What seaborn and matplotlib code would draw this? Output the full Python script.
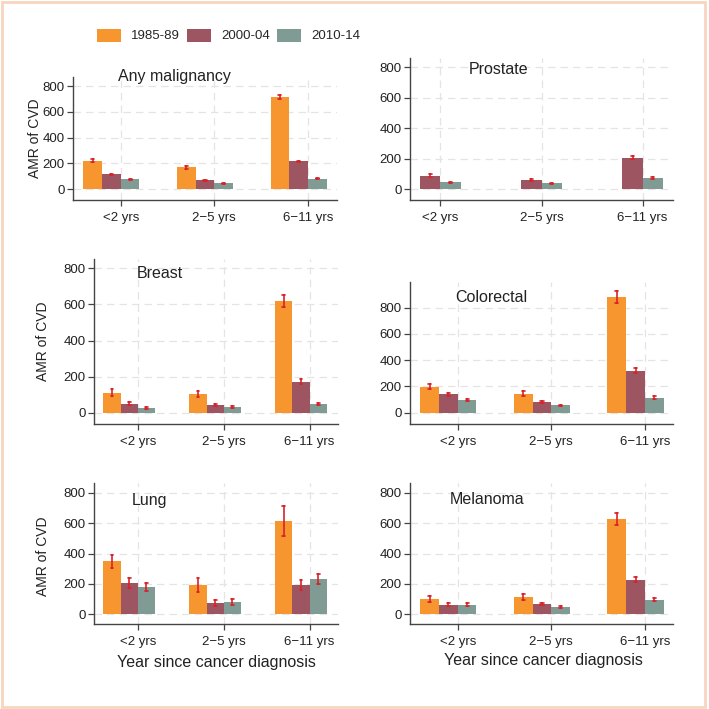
import numpy as np
import pandas as pd
import matplotlib
matplotlib.use("Agg")
import matplotlib.pyplot as plt
from matplotlib.patches import Patch, Rectangle
import seaborn as sns

# ==========================================
# data
# ==========================================
periods = ['1985-89', '2000-04', '2010-14']
categories = ['<2 yrs', '2\u22125 yrs', '6\u221211 yrs']
panels = ['Any malignancy', 'Prostate', 'Breast', 'Colorectal', 'Lung', 'Melanoma']

# AMR values per panel: one row per period, one column per category (nan = not shown)
any_amr = [[220, 168, 718], [113, 67, 215], [75, 45, 80]]
any_err = [[10, 10, 15], [5, 4, 6], [5, 4, 5]]
prostate_amr = [[np.nan, np.nan, np.nan], [88, 61, 206], [44, 37, 70]]
prostate_err = [[0, 0, 0], [9, 5, 10], [5, 4, 6]]
breast_amr = [[112, 105, 618], [51, 44, 173], [28, 31, 50]]
breast_err = [[20, 18, 34], [8, 6, 12], [5, 5, 7]]
colorectal_amr = [[198, 145, 882], [140, 82, 320], [94, 55, 114]]
colorectal_err = [[20, 17, 44], [12, 9, 20], [8, 7, 10]]
lung_amr = [[348, 192, 615], [205, 73, 190], [178, 81, 234]]
lung_err = [[43, 46, 98], [30, 22, 34], [25, 19, 33]]
melanoma_amr = [[99, 112, 628], [62, 68, 227], [62, 48, 95]]
melanoma_err = [[22, 20, 39], [8, 7, 16], [9, 7, 12]]

all_amr = [any_amr, prostate_amr, breast_amr, colorectal_amr, lung_amr, melanoma_amr]
all_err = [any_err, prostate_err, breast_err, colorectal_err, lung_err, melanoma_err]

colors = {'1985-89': '#F7962F', '2000-04': '#9D5562', '2010-14': '#7F9B93'}
err_color = '#D8232A'

# ==========================================
# layout (pixels on a 709x709 canvas)
# ==========================================
W = 709.0
# left, right, top, bottom of each axes
boxes = [(73, 337, 77, 200), (410, 673, 58, 200),
         (94, 338, 259, 424), (410, 673, 282, 424),
         (94, 338, 483, 624), (410, 673, 483, 624)]
xlims = [(-0.41, 2.41), (-0.20, 2.40), (-0.41, 2.43),
         (-0.41, 2.40), (-0.41, 2.43), (-0.41, 2.40)]
ylims = [(-85, 870), (-72, 861), (-61, 850), (-86, 996), (-66, 866), (-66, 866)]
title_pos = [(118, 76), (469, 69), (137, 273), (455, 298), (132, 501), (450, 499)]
ylabel_pos = {0: (35, 138), 2: (43, 341), 4: (43, 556)}
xlabel_pos = [(216, 662), (543, 661)]


def px_rect(l, r, t, b):
    return [l / W, 1 - b / W, (r - l) / W, (b - t) / W]


def long_frame(amr, err):
    # each bar as (v-e, v, v+e): mean = v, 100% interval = +/- e
    rows = []
    for p, period in enumerate(periods):
        for c, cat in enumerate(categories):
            v = amr[p][c]
            if np.isnan(v):
                continue
            e = err[p][c]
            for val in (v - e, v, v + e):
                rows.append({'cat': cat, 'period': period, 'amr': val})
    return pd.DataFrame(rows)


sns.set_theme(style='white')
plt.rcParams['font.family'] = ['Liberation Sans', 'DejaVu Sans']

fig = plt.figure(figsize=(7.09, 7.09), dpi=100)
fig.patch.set_facecolor('white')

for i, name in enumerate(panels):
    ax = fig.add_axes(px_rect(*boxes[i]))
    df = long_frame(all_amr[i], all_err[i])
    sns.barplot(data=df, x='cat', y='amr', hue='period', order=categories,
                hue_order=periods, palette=colors, estimator='mean',
                errorbar=('pi', 100), width=0.6, saturation=1, linewidth=0,
                capsize=0.1, err_kws={'color': err_color, 'linewidth': 1.2},
                legend=False, ax=ax)

    ax.set_xlim(*xlims[i])
    ax.set_ylim(*ylims[i])
    ax.set_xticks(np.arange(len(categories)) + 0.1)
    ax.set_xticklabels(categories)
    ax.set_yticks([0, 200, 400, 600, 800])
    ax.set_xlabel('')
    ax.set_ylabel('')

    ax.grid(True, color='#E4E4E4', linestyle=(0, (6, 4)), linewidth=0.9)
    ax.set_axisbelow(True)
    sns.despine(ax=ax)
    for s in ['left', 'bottom']:
        ax.spines[s].set_color('#444444')
        ax.spines[s].set_linewidth(1.0)
    ax.tick_params(axis='both', length=4, width=0.9, color='#444444',
                   labelsize=9.5, labelcolor='#222222', pad=2, direction='out')
    ax.tick_params(axis='x', pad=5, bottom=True)
    ax.tick_params(axis='y', left=True)
    ax.set_facecolor('none')

    tx, ty = title_pos[i]
    fig.text(tx / W, 1 - ty / W, name, ha='left', va='center',
             fontsize=11.5, color='#222222')

    if i in ylabel_pos:
        lx, ly = ylabel_pos[i]
        fig.text(lx / W, 1 - ly / W, 'AMR of CVD', rotation=90,
                 ha='center', va='center', fontsize=10, color='#222222')

for lx, ly in xlabel_pos:
    fig.text(lx / W, 1 - ly / W, 'Year since cancer diagnosis',
             ha='center', va='center', fontsize=11.5, color='#222222')

handles = [Patch(facecolor=colors[p], edgecolor='none', label=p) for p in periods]
fig.legend(handles=handles, loc='center left', ncol=3, frameon=False,
           bbox_to_anchor=(97 / W, 1 - 35.5 / W), borderpad=0, borderaxespad=0,
           fontsize=9.5, handlelength=1.82, handleheight=1.14,
           handletextpad=0.76, columnspacing=0.55)

# peach frame around the whole figure
fig.add_artist(Rectangle((2 / W, 2 / W), 703 / W, 705 / W,
                         transform=fig.transFigure, fill=False,
                         edgecolor='#F7D5BE', linewidth=2))

fig.savefig('out.png', dpi=100, facecolor='white')
